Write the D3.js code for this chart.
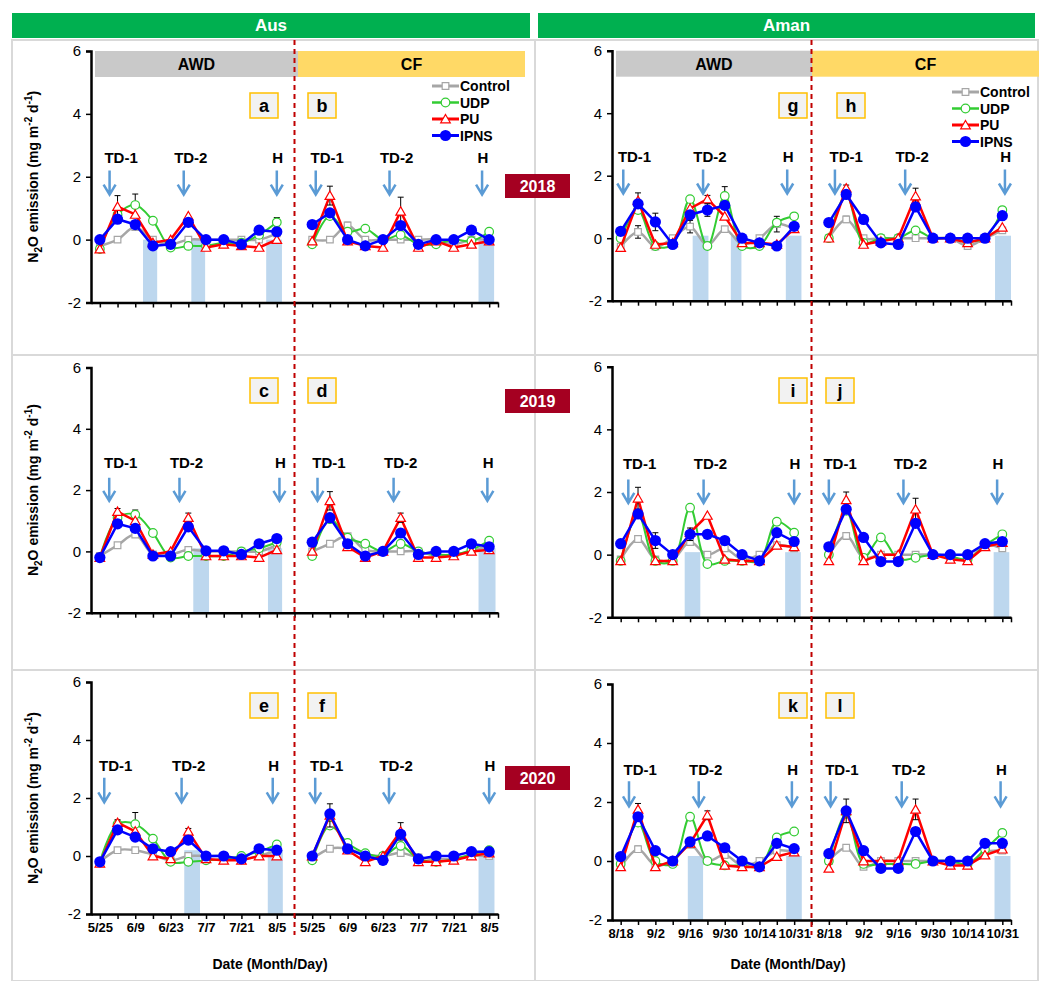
<!DOCTYPE html>
<html>
<head>
<meta charset="utf-8">
<script src="https://cdn.jsdelivr.net/npm/d3@7"></script>
<style>
  body { margin: 0; background: #fff; }
  svg { font-family: "Liberation Sans", Arial, sans-serif; }
</style>
</head>
<body>
<script>
// ---- data ----
const seriesNames = ["Control", "UDP", "PU", "IPNS"]
const yTicks = [-2, 0, 2, 4, 6]
const ausDates = ["5/25", "6/9", "6/23", "7/7", "7/21", "8/5"]
const amanDates = ["8/18", "9/2", "9/16", "9/30", "10/14", "10/31"]
const years = ["2018", "2019", "2020"]

// Aus 2018 AWD (a) / CF (b)
const ctrlA = [-0.2, 0, 0.4, 0, -0.15, 0, 0, 0, 0, 0, 0.2]
const udpA = [-0.3, 0.8, 1.1, 0.6, -0.25, -0.2, -0.2, -0.1, -0.1, 0.15, 0.55]
const puA = [-0.3, 1.05, 0.8, -0.1, 0, 0.75, -0.25, -0.15, -0.2, -0.25, 0]
const ipnsA = [0, 0.65, 0.48, -0.2, -0.15, 0.55, 0, 0, -0.15, 0.3, 0.25]
const ctrlB = [0, 0, 0.45, 0, 0, 0, 0, 0, -0.15, 0, 0]
const udpB = [-0.15, 0.75, 0.25, 0.35, 0, 0.15, -0.15, -0.15, 0, -0.05, 0.25]
const puB = [-0.05, 1.4, -0.05, -0.2, -0.25, 0.9, -0.25, -0.05, -0.25, -0.15, -0.05]
const ipnsB = [0.48, 0.85, 0, -0.2, 0, 0.45, -0.15, 0, 0, 0.3, 0]
// Aus 2019 AWD (c) / CF (d)
const ctrlC = [-0.15, 0.2, 0.55, -0.1, -0.1, 0.05, 0, 0, 0, 0, 0.2]
const udpC = [-0.2, 1.1, 1.2, 0.6, -0.2, -0.15, -0.15, -0.15, 0, 0.1, 0.3]
const puC = [-0.2, 1.3, 1.0, -0.1, 0, 1.1, -0.15, -0.15, -0.15, -0.2, 0.05]
const ipnsC = [-0.2, 0.9, 0.75, -0.15, -0.15, 0.8, 0.02, 0.02, -0.1, 0.25, 0.42]
const ctrlD = [0, 0.25, 0.5, 0.05, 0, 0, 0, -0.15, -0.1, 0, 0.2]
const udpD = [-0.15, 1.05, 0.45, 0.25, 0, 0.25, 0, -0.1, -0.1, 0.05, 0.35]
const puD = [0, 1.65, 0.15, -0.2, 0, 1.1, -0.2, -0.2, -0.15, 0, 0.05]
const ipnsD = [0.3, 1.1, 0.25, -0.15, 0, 0.6, -0.1, 0, 0, 0.25, 0.15]
// Aus 2020 AWD (e) / CF (f)
const ctrlE = [-0.2, 0.2, 0.2, 0.05, -0.15, 0, 0, 0, -0.1, 0, 0.2]
const udpE = [-0.2, 1.1, 1.1, 0.6, -0.2, -0.2, -0.15, -0.1, 0, 0.15, 0.4]
const puE = [-0.25, 1.15, 0.85, 0, -0.1, 0.85, -0.1, -0.15, -0.15, 0, 0]
const ipnsE = [-0.2, 0.9, 0.65, 0.25, 0.15, 0.55, 0, 0, -0.1, 0.25, 0.2]
const ctrlF = [-0.1, 0.25, 0.25, 0.05, 0, 0.1, -0.05, -0.1, -0.1, 0, 0]
const udpF = [-0.15, 1.05, 0.45, 0.1, 0, 0.35, -0.1, -0.2, -0.1, 0.05, 0.2]
const puF = [0, 1.4, 0.2, -0.2, 0, 0.85, -0.2, -0.2, -0.15, 0, 0.1]
const ipnsF = [0, 1.45, 0.25, 0, -0.15, 0.75, -0.1, 0, 0, 0.15, 0.15]
// Aman 2018 AWD (g) / CF (h)
const ctrlG = [-0.27, 0.2, -0.27, 0, 0.37, -0.23, 0.29, -0.2, 0, 0.45, 0.29]
const udpG = [0, 0.9, -0.25, -0.2, 1.25, -0.25, 1.35, -0.25, -0.25, 0.5, 0.7]
const puG = [-0.3, 1.2, -0.2, -0.15, 0.95, 1.25, 0.7, -0.15, -0.15, -0.2, 0.3]
const ipnsG = [0.22, 1.1, 0.52, -0.2, 0.75, 0.9, 1.05, 0, -0.15, -0.25, 0.38]
const ctrlH = [0, 0.6, 0, 0, 0, 0, 0, 0, -0.25, 0, 0.25]
const udpH = [0, 1.4, -0.15, 0, 0, 0.25, 0, 0, -0.1, 0, 0.9]
const puH = [0, 1.6, -0.2, -0.1, 0, 1.35, 0, 0, -0.15, 0, 0.35]
const ipnsH = [0.5, 1.4, 0.6, -0.15, -0.2, 1.0, 0, 0, 0, 0, 0.72]
// Aman 2019 AWD (i) / CF (j)
const ctrlI = [-0.15, 0.5, -0.15, -0.15, 0.4, 0, 0.2, -0.15, 0, 0.3, 0.2]
const udpI = [-0.2, 1.3, -0.2, -0.2, 1.5, -0.3, -0.2, -0.2, -0.2, 1.05, 0.7]
const puI = [-0.2, 1.8, -0.2, -0.2, 0.7, 1.25, -0.15, -0.2, -0.2, 0.3, 0.25]
const ipnsI = [0.35, 1.3, 0.45, 0, 0.65, 0.65, 0.45, 0, -0.2, 0.7, 0.42]
const ctrlJ = [0, 0.6, -0.1, 0, 0, 0, 0, -0.1, -0.15, 0.3, 0.2]
const udpJ = [0, 1.4, -0.1, 0.55, -0.15, -0.1, 0, -0.05, -0.15, 0.3, 0.65]
const puJ = [-0.2, 1.75, -0.2, 0, 0, 1.45, 0, -0.15, -0.2, 0.25, 0.38]
const ipnsJ = [0.25, 1.45, 0.55, -0.22, -0.22, 1.0, 0, 0, 0, 0.35, 0.42]
// Aman 2020 AWD (k) / CF (l)
const ctrlK = [-0.2, 0.4, -0.15, 0, 0.55, 0, 0.2, -0.15, 0, 0.35, 0.3]
const udpK = [-0.1, 1.3, 0, -0.1, 1.5, 0, -0.15, -0.15, -0.2, 0.8, 1.0]
const puK = [-0.2, 1.75, -0.2, 0, 0.6, 1.55, -0.15, -0.2, -0.2, 0.15, 0.3]
const ipnsK = [0.15, 1.5, 0.35, 0, 0.65, 0.85, 0.45, 0, -0.2, 0.6, 0.42]
const ctrlL = [0, 0.45, -0.2, 0, 0, 0, 0, 0, -0.15, 0.3, 0.35]
const udpL = [0, 1.6, -0.1, -0.1, -0.1, -0.1, 0, 0, -0.1, 0.4, 0.95]
const puL = [-0.25, 1.7, 0, 0, 0, 1.75, 0, -0.15, -0.15, 0.2, 0.4]
const ipnsL = [0.25, 1.7, 0.35, -0.25, -0.25, 1.0, 0, 0, 0, 0.6, 0.6]

// error bars: [series, category index, +/- value]
const errAus2018 = [["PU", 1, 0.35], ["UDP", 2, 0.35], ["UDP", 10, 0.15], ["Control", 2, 0.1], ["IPNS", 1, 0.1], ["PU", 13, 0.3], ["PU", 17, 0.45], ["Control", 14, 0.1]]
const errAus2019 = [["PU", 1, 0.1], ["UDP", 2, 0.15], ["PU", 5, 0.15], ["PU", 13, 0.3], ["PU", 17, 0.15]]
const errAus2020 = [["UDP", 2, 0.4], ["PU", 1, 0.1], ["PU", 5, 0.1], ["UDP", 10, 0.1], ["PU", 13, 0.4], ["PU", 17, 0.3]]
const errAman2018 = [["PU", 1, 0.25], ["Control", 1, 0.2], ["IPNS", 2, 0.28], ["IPNS", 5, 0.2], ["UDP", 6, 0.3], ["PU", 5, 0.12], ["Control", 4, 0.2], ["Control", 9, 0.25], ["IPNS", 9, 0.1], ["PU", 13, 0.1], ["PU", 17, 0.25], ["Control", 13, 0.1]]
const errAman2019 = [["PU", 1, 0.35], ["IPNS", 2, 0.25], ["IPNS", 4, 0.2], ["UDP", 9, 0.1], ["PU", 13, 0.25], ["PU", 17, 0.35], ["Control", 13, 0.1]]
const errAman2020 = [["PU", 1, 0.2], ["Control", 1, 0.1], ["IPNS", 4, 0.15], ["PU", 5, 0.15], ["UDP", 9, 0.1], ["PU", 13, 0.4], ["PU", 17, 0.35], ["UDP", 22, 0.1]]

// drainage periods (category units) and bar top value
const drainAus2018 = [[2.44, 3.24], [5.17, 5.95], [9.4, 10.29], [21.4, 22.28]]
const drainAus2019 = [[5.28, 6.17], [9.5, 10.3], [21.4, 22.36]]
const drainAus2020 = [[4.77, 5.66], [9.49, 10.34], [21.4, 22.3]]
const drainAman2018 = [[4.15, 5.06], [6.35, 6.96], [9.52, 10.42], [21.58, 22.5]]
const drainAman2019 = [[3.69, 4.59], [9.48, 10.38], [21.5, 22.4]]
const drainAman2020 = [[3.87, 4.75], [9.54, 10.44], [21.55, 22.47]]
const drainTop = [[0, 0.1, 0.2], [0.08, 0.08, 0.17]]

// event arrows TD-1, TD-2, H (AWD then CF), category units
const eventLabels = ["TD-1", "TD-2", "H"]
const eventsAus = [[0.55, 4.74, 10.0, 12.2, 16.37, 21.6], [0.53, 4.5, 10.15, 12.3, 16.6, 21.9], [0.25, 4.62, 9.77, 12.17, 16.34, 22.0]]
const eventsAman = [[0.15, 4.75, 9.6, 12.35, 16.4, 22.15], [0.44, 4.78, 10.0, 12.0, 16.3, 21.7], [0.48, 4.5, 9.87, 12.1, 16.2, 21.9]]

const panelLetters = [["a", "b", "g", "h"], ["c", "d", "i", "j"], ["e", "f", "k", "l"]]

// ---- layout ----
const W = 1040, H = 981
const colors = {Control: "#a6a6a6", UDP: "#33cc33", PU: "#ff0000", IPNS: "#0000ff"}
const widths = {Control: 2.5, UDP: 2, PU: 2.5, IPNS: 2.5}
const cols = [
  {name: "Aus", x0: 91, x1: 498, rows: [[51, 302.5], [367.5, 612.7], [682, 914]], dates: ausDates,
   letterX: [[264, 322], [264, 322], [264, 322]], legendX: 432, legendY: 86, boxes: [95, 298, 525],
   cell: [12, 535], head: [12, 530], titleX: 270},
  {name: "Aman", x0: 612, x1: 1011, rows: [[50.7, 300.7], [366.7, 617.3], [684, 920]], dates: amanDates,
   letterX: [[793, 851], [793, 840], [793, 840]], legendX: 952, legendY: 92, boxes: [616, 812, 1039],
   cell: [535, 1038], head: [538, 1035], titleX: 788}
]
const rowCells = [40, 355, 670, 981]
const letterY = [105, 390, 705]
const arrowY = [[2.2, 1.43, 2.6], [2.4, 1.65, 2.9], [2.7, 1.85, 3.1]]
const textOffset = [0.65, 0.4, 0.05]

const chartData = {
  Aus: [
    [[ctrlA, udpA, puA, ipnsA], [ctrlB, udpB, puB, ipnsB], errAus2018, drainAus2018],
    [[ctrlC, udpC, puC, ipnsC], [ctrlD, udpD, puD, ipnsD], errAus2019, drainAus2019],
    [[ctrlE, udpE, puE, ipnsE], [ctrlF, udpF, puF, ipnsF], errAus2020, drainAus2020]],
  Aman: [
    [[ctrlG, udpG, puG, ipnsG], [ctrlH, udpH, puH, ipnsH], errAman2018, drainAman2018],
    [[ctrlI, udpI, puI, ipnsI], [ctrlJ, udpJ, puJ, ipnsJ], errAman2019, drainAman2019],
    [[ctrlK, udpK, puK, ipnsK], [ctrlL, udpL, puL, ipnsL], errAman2020, drainAman2020]]
}
const eventsByCol = {Aus: eventsAus, Aman: eventsAman}

const svg = d3.select("body").append("svg").attr("width", W).attr("height", H)

// table cells
cols.forEach(c => {
  for (let r = 0; r < 3; r++) {
    svg.append("rect")
      .attr("x", c.cell[0]).attr("y", rowCells[r])
      .attr("width", c.cell[1] - c.cell[0]).attr("height", rowCells[r + 1] - rowCells[r])
      .attr("fill", "none").attr("stroke", "#d9d9d9").attr("stroke-width", 2)
  }
  svg.append("rect")
    .attr("x", c.head[0]).attr("y", 13).attr("width", c.head[1] - c.head[0]).attr("height", 25)
    .attr("fill", "#00b050")
  svg.append("text")
    .attr("x", (c.head[0] + c.head[1]) / 2).attr("y", 31)
    .attr("text-anchor", "middle").attr("fill", "#fff")
    .attr("font-weight", "bold").attr("font-size", 17)
    .text(c.name)
})

function markerPath(name) {
  if (name === "Control") return d3.symbol(d3.symbolSquare, 44)()
  if (name === "PU") return d3.symbol(d3.symbolTriangle, 40)()
  return null
}

function drawMarker(g, name, cx, cy) {
  if (name === "UDP") {
    g.append("circle").attr("cx", cx).attr("cy", cy).attr("r", 4.3)
      .attr("fill", "#fff").attr("stroke", colors.UDP).attr("stroke-width", 1.2)
  } else if (name === "IPNS") {
    g.append("circle").attr("cx", cx).attr("cy", cy).attr("r", 5.6).attr("fill", colors.IPNS)
  } else {
    g.append("path").attr("d", markerPath(name))
      .attr("transform", `translate(${cx},${cy + (name === "PU" ? 1 : 0)})`)
      .attr("fill", "#fff").attr("stroke", colors[name]).attr("stroke-width", 1.2)
  }
}

cols.forEach((c, ci) => {
  const x = d3.scaleLinear().domain([-0.5, 22.5]).range([c.x0, c.x1])

  c.rows.forEach((rr, ri) => {
    const y = d3.scaleLinear().domain([-2, 6]).range([rr[1], rr[0]])
    const [awd, cf, errs, drains] = chartData[c.name][ri]
    const g = svg.append("g")

    // AWD / CF header bars (first row only)
    if (ri === 0) {
      const by = y(6)
      g.append("rect").attr("x", c.boxes[0]).attr("y", by).attr("width", c.boxes[1] - c.boxes[0])
        .attr("height", 26).attr("fill", "#c9c9c9")
      g.append("rect").attr("x", c.boxes[1]).attr("y", by).attr("width", c.boxes[2] - c.boxes[1])
        .attr("height", 26).attr("fill", "#ffd966")
      g.append("text").attr("x", (c.boxes[0] + c.boxes[1]) / 2).attr("y", by + 19)
        .attr("text-anchor", "middle").attr("font-weight", "bold").attr("font-size", 16).text("AWD")
      g.append("text").attr("x", (c.boxes[1] + c.boxes[2]) / 2).attr("y", by + 19)
        .attr("text-anchor", "middle").attr("font-weight", "bold").attr("font-size", 16).text("CF")
    }

    // drainage bars
    g.selectAll(".drain").data(drains).enter().append("rect")
      .attr("x", d => x(d[0])).attr("width", d => x(d[1]) - x(d[0]))
      .attr("y", y(drainTop[ci][ri])).attr("height", y(-2) - y(drainTop[ci][ri]))
      .attr("fill", "#bdd7ee")

    // axes
    const yAxis = g.append("g").attr("transform", `translate(${c.x0},0)`)
      .call(d3.axisLeft(y).tickValues(yTicks).tickSize(5).tickPadding(5).tickFormat(d => String(d)))
    yAxis.select(".domain").attr("stroke", "#000").attr("stroke-width", 2.5)
    yAxis.selectAll(".tick line").attr("stroke", "#000").attr("stroke-width", 1.5)
    yAxis.selectAll(".tick text").attr("font-size", 15).attr("fill", "#000")
      .style("font-family", "Liberation Sans, Arial")

    const xt = d3.range(0, 23).concat([22.5])
    const xAxis = g.append("g").attr("transform", `translate(0,${y(-2)})`)
      .call(d3.axisBottom(x).tickValues(xt).tickSize(5).tickSizeOuter(0).tickPadding(4)
        .tickFormat(d => (ri === 2 && d % 2 === 0 && d !== 22.5) ? c.dates[(d % 12) / 2] : ""))
    xAxis.select(".domain").attr("stroke", "#000").attr("stroke-width", 2.5)
    xAxis.selectAll(".tick line").attr("stroke", "#000").attr("stroke-width", 1.5)
    xAxis.selectAll(".tick text").attr("font-size", 13).attr("font-weight", "bold").attr("fill", "#000")
      .style("font-family", "Liberation Sans, Arial")

    // event arrows
    const ev = eventsByCol[c.name][ri]
    const ay = arrowY[ri]
    ev.forEach((pos, k) => {
      const lbl = eventLabels[k % 3]
      const ax = x(pos)
      const ytop = y(ay[0]), ybot = y(ay[1])
      g.append("path")
        .attr("d", `M${ax},${ytop}L${ax},${ybot}M${ax - 6},${ybot - 10}L${ax},${ybot}L${ax + 6},${ybot - 10}`)
        .attr("fill", "none").attr("stroke", "#5b9bd5").attr("stroke-width", 2.5)
      g.append("text").attr("x", x(pos + textOffset[k % 3])).attr("y", y(ay[2]) + 5)
        .attr("text-anchor", "middle").attr("font-weight", "bold").attr("font-size", 15).text(lbl)
    })

    // series lines
    seriesNames.forEach((name, si) => {
      const vals = awd[si].concat([null], cf[si])
      const pts = vals.map((v, i) => ({i, v}))
      const line = d3.line().defined(d => d.v !== null)
        .x(d => x(d.i)).y(d => y(d.v))
        .curve((name === "UDP" || name === "Control") ? d3.curveCatmullRom.alpha(0.5) : d3.curveLinear)
      g.append("path").datum(pts).attr("d", line)
        .attr("fill", "none").attr("stroke", colors[name]).attr("stroke-width", widths[name])
        .attr("stroke-linejoin", "round")
      errs.filter(e => e[0] === name).forEach(e => {
        const ex = x(e[1]), v = vals[e[1]]
        g.append("path")
          .attr("d", `M${ex},${y(v + e[2])}L${ex},${y(v - e[2])}M${ex - 3},${y(v + e[2])}L${ex + 3},${y(v + e[2])}M${ex - 3},${y(v - e[2])}L${ex + 3},${y(v - e[2])}`)
          .attr("stroke", "#000").attr("stroke-width", 1).attr("fill", "none")
      })
      pts.filter(d => d.v !== null).forEach(d => drawMarker(g, name, x(d.i), y(d.v)))
    })

    // panel letters
    panelLetters[ri].slice(ci * 2, ci * 2 + 2).forEach((L, k) => {
      const lx = c.letterX[ri][k]
      g.append("rect").attr("x", lx - 14).attr("y", letterY[ri] - 12).attr("width", 28).attr("height", 25)
        .attr("fill", "#f2f2f2").attr("stroke", "#ffc000").attr("stroke-width", 1.5)
      g.append("text").attr("x", lx).attr("y", letterY[ri] + 7).attr("text-anchor", "middle")
        .attr("font-weight", "bold").attr("font-size", 18).text(L)
    })

    // legend (first row only)
    if (ri === 0) {
      seriesNames.forEach((name, si) => {
        const ly = c.legendY + si * 16.5
        g.append("line").attr("x1", c.legendX).attr("x2", c.legendX + 27).attr("y1", ly).attr("y2", ly)
          .attr("stroke", colors[name]).attr("stroke-width", widths[name] + 0.5)
        drawMarker(g, name, c.legendX + 13.5, ly)
        g.append("text").attr("x", c.legendX + 28).attr("y", ly + 5)
          .attr("font-weight", "bold").attr("font-size", 14).text(name)
      })
    }

    // y axis title (Aus column)
    if (ci === 0) {
      const t = g.append("text")
        .attr("transform", `translate(38,${(rr[0] + rr[1]) / 2}) rotate(-90)`)
        .attr("text-anchor", "middle").attr("font-weight", "bold").attr("font-size", 14)
      t.append("tspan").text("N")
      t.append("tspan").attr("font-size", 10).attr("dy", 4).text("2")
      t.append("tspan").attr("dy", -4).text("O emission (mg m")
      t.append("tspan").attr("font-size", 10).attr("dy", -6).text("-2")
      t.append("tspan").attr("dy", 6).text(" d")
      t.append("tspan").attr("font-size", 10).attr("dy", -6).text("-1")
      t.append("tspan").attr("dy", 6).text(")")
    }
  })

  // red dashed divider
  svg.append("line").attr("x1", x(11)).attr("x2", x(11)).attr("y1", 40).attr("y2", 935)
    .attr("stroke", "#c00000").attr("stroke-width", 2).attr("stroke-dasharray", "5,4")

  // x axis title
  svg.append("text").attr("x", c.titleX).attr("y", 969)
    .attr("text-anchor", "middle").attr("font-weight", "bold").attr("font-size", 14)
    .text("Date (Month/Day)")
})

// year badges
const yearY = [186, 401, 778]
years.forEach((yr, i) => {
  svg.append("rect").attr("x", 505).attr("y", yearY[i] - 12).attr("width", 65).attr("height", 24)
    .attr("fill", "#a50021")
  svg.append("text").attr("x", 537.5).attr("y", yearY[i] + 6).attr("text-anchor", "middle")
    .attr("fill", "#fff").attr("font-weight", "bold").attr("font-size", 16).text(yr)
})
</script>
</body>
</html>
